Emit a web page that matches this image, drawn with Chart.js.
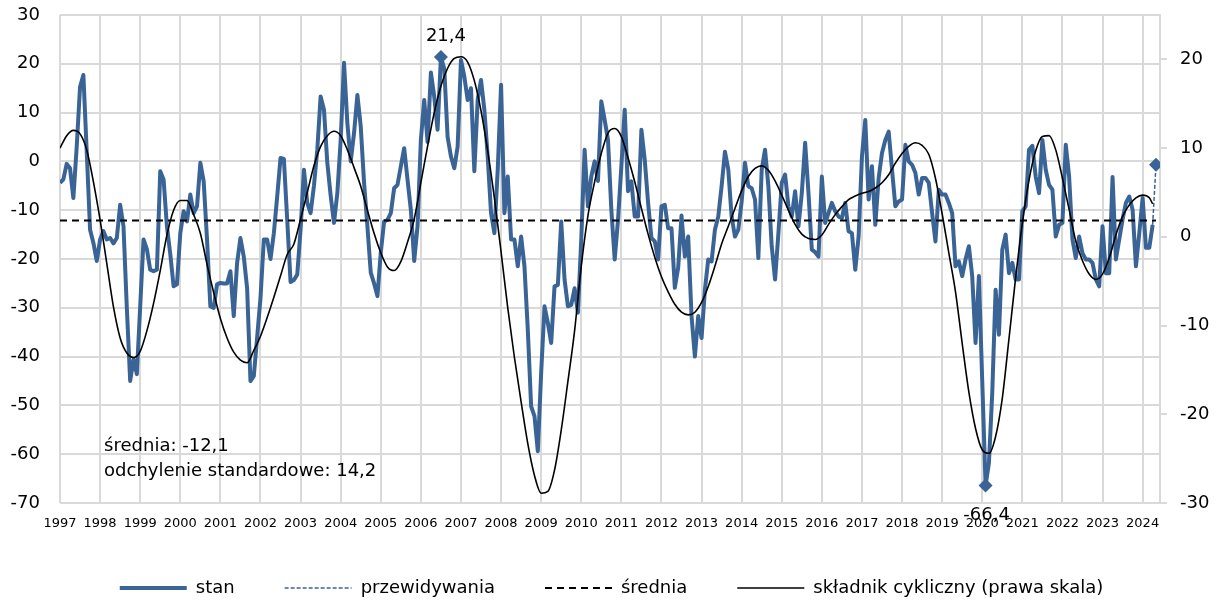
<!DOCTYPE html>
<html>
<head>
<meta charset="utf-8">
<script src="https://cdn.jsdelivr.net/npm/chart.js@4.4.1/dist/chart.umd.min.js"></script>
<style>
  html, body { margin: 0; padding: 0; background: #fff; }
  #wrap { width: 1223px; height: 607px; }
</style>
</head>
<body>
<div id="wrap"><canvas id="chart" width="1223" height="607"></canvas></div>
<script>
(function () {
    "use strict";

    // Year labels (one per January)
    const years = [
        "1997", "1998", "1999", "2000", "2001", "2002", "2003", "2004",
        "2005", "2006", "2007", "2008", "2009", "2010", "2011", "2012",
        "2013", "2014", "2015", "2016", "2017", "2018", "2019", "2020",
        "2021", "2022", "2023", "2024",
    ];

    // Monthly values, Jan 1997 .. Apr 2024 (left axis)
    const stan = [
        -4.4, -3.7, -0.5, -1.4, -7.5, 3, 15.3, 17.7, 2, -14, -16.7, -20.4,
        -16, -14.3, -16, -15.7, -16.8, -15.7, -8.9, -13.3, -30, -45, -40.6, -43.6,
        -29.7, -16, -18, -22.2, -22.5, -22.2, -2, -3.7, -13.3, -19, -25.6, -25.2,
        -14.7, -10.2, -12.3, -6.8, -10.6, -9.2, -0.3, -4.1, -16, -29.7, -30, -25.2,
        -24.9, -25, -25, -22.5, -31.7, -20.8, -15.7, -19.5, -26, -45, -44, -36,
        -28, -16, -16, -20, -14.7, -7.2, 0.7, 0.5, -12, -24.7, -24.3, -23.2,
        -14, -1.7, -8.5, -10.6, -5, 2.4, 13.3, 10.6, -0.3, -7, -12.6, -6.5,
        4.4, 20.2, 7.8, 0, 5.8, 13.6, 7.2, -4.4, -13.3, -22.8, -25, -27.6,
        -18.7, -12.3, -12, -10.6, -5.5, -4.8, -1, 2.7, -3.7, -9.9, -20.4, -13.3,
        4.4, 12.6, 4, 18.2, 13.3, 6.5, 21.4, 19, 5, 1, -1.4, 3,
        20.8, 17.4, 12.6, 15, -2, 12.6, 16.7, 10.6, 1, -10.6, -14.7, -1.7,
        15.7, -10.6, -3.1, -16, -16, -21.5, -15.4, -21.5, -34.5, -50.2, -52.2, -59.4,
        -43.3, -29.7, -33.1, -37.2, -25.6, -25.3, -12.3, -24.2, -29.7, -29.4, -26, -31,
        -16, 2.4, -9.2, -3.1, 0, -4, 12.3, 8.5, 4.4, -9.9, -20.1, -12,
        -1, 10.6, -6.1, -4.1, -11.3, -11.3, 6.5, 0.3, -8.5, -15.7, -16.4, -20.1,
        -9.2, -8.9, -13.7, -13.7, -25.9, -21.8, -11.1, -19.5, -15.4, -31.7, -40, -31.7,
        -36.2, -26.3, -20.1, -20.5, -14, -11.3, -5.1, 2, -1.7, -11.3, -15.4, -14,
        -8.2, -0.3, -5.1, -5.5, -7.8, -19.8, -1.7, 2.4, -5.1, -17.4, -24.2, -14.7,
        -4.4, -2.7, -9.2, -11.3, -6.1, -13.3, -6.5, 3.8, -6.5, -18.1, -18.6, -19.5,
        -3.1, -12.6, -10.6, -8.5, -10.2, -11.3, -11.6, -8.5, -14.3, -14.7, -22.2, -15.4,
        1, 8.5, -7.8, -1, -13, -3.4, 1.7, 4.4, 6.1, -1.7, -9.2, -8.2,
        -7.8, 3.4, 0, -0.7, -2.4, -6.8, -3.4, -3.4, -4.4, -10.6, -16.4, -5.8,
        -6.8, -6.8, -8.5, -10.6, -21.5, -20.5, -23.5, -20.1, -17.4, -23.5, -37.2, -23.5,
        -45, -66.4, -61.8, -47.4, -26.3, -35.5, -18.1, -15, -22.9, -20.8, -24.2, -24.2,
        -10.2, -9.2, 2.4, 3.2, -3.1, -6.5, 4.4, -1.7, -4.8, -5.8, -15.4, -13,
        -12.6, 3.4, -3.1, -16, -19.8, -15.4, -18.8, -20.1, -20.1, -20.8, -24.2, -25.6,
        -13.3, -22.9, -22.9, -3.2, -20.1, -16, -11.9, -8.5, -7.2, -9.9, -21.5, -14.7,
        -7.5, -17.7, -17.7, -13,
    ];

    const forecast = -0.7;   // next month
    const mean = -12.1;
    const stdDev = 14.2;

    // Cyclical component (right axis), read every ~2 months
    const cycMonths = [
        0, 2, 4, 6, 8, 10, 12, 14, 16, 18, 20, 22, 24, 26, 28, 30, 32, 34, 36, 38,
        40, 42, 44, 46, 48, 50, 52, 54, 56, 58, 60, 62, 64, 66, 68, 70, 72, 74, 76, 78,
        80, 82, 84, 86, 88, 90, 92, 94, 96, 98, 100, 102, 104, 106, 108, 110, 112, 114, 116, 118,
        120, 122, 124, 126, 128, 130, 132, 134, 136, 138, 140, 142, 144, 146, 148, 150, 152, 154, 156, 158,
        160, 162, 164, 166, 168, 170, 172, 174, 176, 178, 180, 182, 184, 186, 188, 190, 192, 194, 196, 198,
        200, 202, 204, 206, 208, 210, 212, 214, 216, 218, 220, 222, 224, 226, 228, 230, 232, 234, 236, 238,
        240, 242, 244, 246, 248, 250, 252, 254, 256, 258, 260, 262, 264, 266, 268, 270, 272, 274, 276, 278,
        280, 282, 284, 286, 288, 290, 292, 294, 296, 298, 300, 302, 304, 306, 308, 310, 312, 314, 316, 318,
        320, 322, 324, 326, 327,
    ];
    const cycValues = [
        10.0, 11.4, 12.0, 11.6, 9.8, 6.2, 1.9, -3.0, -7.9, -11.4, -13.1, -13.6, -12.9, -10.6, -7.5, -3.8, 0.2, 3.0, 4.1, 4.1,
        2.5, 0.4, -3.1, -6.3, -9.2, -11.4, -13.0, -13.9, -14.2, -12.8, -11.2, -9.1, -6.8, -4.4, -2.0, -0.8, 2.0, 5.0, 8.0, 10.2,
        11.4, 11.9, 11.4, 9.8, 7.8, 5.7, 3.0, 0.4, -1.8, -3.4, -3.8, -2.8, -0.6, 2.0, 6.1, 10.2, 14.0, 17.0, 19.0, 20.1,
        20.3, 19.7, 17.6, 14.2, 9.7, 4.4, -1.7, -8.0, -13.6, -18.6, -23.3, -26.9, -28.9, -28.7, -26.3, -21.8, -16.3, -10.6, -3.3, 2.4,
        6.2, 9.4, 11.7, 12.2, 11.3, 8.9, 6.2, 3.2, 0.3, -2.3, -4.5, -6.2, -7.6, -8.5, -8.8, -8.5, -7.4, -5.6, -3.3, -0.8,
        1.2, 3.2, 5.2, 6.8, 7.7, 8.0, 7.5, 6.3, 4.7, 3.0, 1.4, 0.3, -0.2, -0.3, 0.2, 1.4, 2.5, 3.4, 4.2, 4.6,
        4.9, 5.1, 5.5, 6.1, 7.0, 8.3, 9.4, 10.2, 10.6, 10.3, 9.3, 6.6, 2.6, -1.8, -6.2, -12.0, -17.5, -21.6, -24.0, -24.4,
        -22.5, -18.2, -11.5, -4.6, 1.5, 6.4, 9.7, 11.3, 11.4, 9.8, 6.6, 3.1, -0.5, -2.7, -4.2, -4.8, -4.2, -2.4, 0.2, 2.3,
        3.6, 4.4, 4.7, 4.4, 3.7,
    ];

    const BLUE = "#3A6496";
    const GRID = "#d9d9d9";
    const FONT = "'DejaVu Sans', Verdana, sans-serif";
    const X_MAX = 329.2;

    const fmt = (v) => v.toFixed(1).replace(".", ",");
    const last = stan.length - 1;
    const maxVal = Math.max(...stan);
    const minVal = Math.min(...stan);
    const iMax = stan.indexOf(maxVal);
    const iMin = stan.indexOf(minVal);

    // Stats text and labels of the extremes
    const notes = {
        id: "notes",
        afterDatasetsDraw(chart) {
            const { ctx } = chart;
            const x = chart.scales.x;
            const y = chart.scales.y;
            ctx.save();
            ctx.fillStyle = "#000";
            ctx.font = "18px " + FONT;
            ctx.textBaseline = "middle";
            ctx.textAlign = "left";
            ctx.fillText("średnia: " + fmt(mean), x.getPixelForValue(13.2), y.getPixelForValue(-58.3));
            ctx.fillText("odchylenie standardowe: " + fmt(stdDev), x.getPixelForValue(13.2), y.getPixelForValue(-63.6));
            ctx.textAlign = "center";
            ctx.fillText(fmt(maxVal), x.getPixelForValue(iMax) + 5, y.getPixelForValue(maxVal) - 21);
            ctx.fillText(fmt(minVal), x.getPixelForValue(iMin) + 1, y.getPixelForValue(minVal) + 30);
            ctx.restore();
        },
    };

    const topPad = (scale) => {
        scale.paddingTop = 15;
    };

    const ctx = document.getElementById("chart").getContext("2d");
    new Chart(ctx, {
        type: "line",
        data: {
            datasets: [
                {
                    label: "stan",
                    data: stan.map((v, i) => ({ x: i, y: v })),
                    borderColor: BLUE,
                    backgroundColor: BLUE,
                    borderWidth: 4,
                    borderJoinStyle: "round",
                    pointRadius: 0,
                    yAxisID: "y",
                    order: 5,
                },
                {
                    label: "przewidywania",
                    data: [
                        { x: last, y: stan[last] },
                        { x: last + 1, y: forecast },
                    ],
                    borderColor: BLUE,
                    backgroundColor: BLUE,
                    borderWidth: 1.5,
                    borderDash: [4, 2],
                    pointStyle: "rectRot",
                    pointRadius: [0, 7],
                    pointBorderWidth: 0,
                    yAxisID: "y",
                    order: 4,
                },
                {
                    label: "średnia",
                    data: [
                        { x: 0, y: mean },
                        { x: last + 1, y: mean },
                    ],
                    borderColor: "#000",
                    backgroundColor: "#000",
                    borderWidth: 2,
                    borderDash: [7, 5],
                    pointRadius: 0,
                    yAxisID: "y",
                    order: 2,
                },
                {
                    label: "składnik cykliczny (prawa skala)",
                    data: cycMonths.map((m, i) => ({ x: m, y: cycValues[i] })),
                    borderColor: "#000",
                    backgroundColor: "#000",
                    borderWidth: 1.6,
                    cubicInterpolationMode: "monotone",
                    pointRadius: 0,
                    yAxisID: "y2",
                    order: 1,
                },
                {
                    label: "ekstrema",
                    data: [
                        { x: iMax, y: maxVal },
                        { x: iMin, y: minVal },
                    ],
                    showLine: false,
                    pointStyle: "rectRot",
                    pointRadius: 7,
                    pointBorderWidth: 0,
                    backgroundColor: BLUE,
                    borderColor: BLUE,
                    yAxisID: "y",
                    order: 0,
                },
            ],
        },
        options: {
            responsive: false,
            animation: false,
            devicePixelRatio: 1,
            layout: { padding: 0 },
            plugins: {
                tooltip: { enabled: false },
                legend: {
                    position: "bottom",
                    labels: {
                        color: "#000",
                        font: { family: FONT, size: 18 },
                        usePointStyle: true,
                        pointStyle: "line",
                        pointStyleWidth: 67,
                        padding: 50,
                        // line samples taken from the datasets themselves
                        generateLabels: (chart) =>
                            chart.data.datasets.slice(0, 4).map((ds, i) => ({
                                text: ds.label,
                                datasetIndex: i,
                                strokeStyle: ds.borderColor,
                                fillStyle: "transparent",
                                fontColor: "#000",
                                lineWidth: ds.borderWidth,
                                lineDash: ds.borderDash || [],
                                lineCap: "butt",
                                pointStyle: "line",
                                hidden: false,
                            })),
                    },
                },
            },
            scales: {
                x: {
                    type: "linear",
                    min: 0,
                    max: X_MAX,
                    afterBuildTicks: (scale) => {
                        scale.ticks = years
                            .map((_, i) => ({ value: i * 12 }))
                            .concat([{ value: X_MAX }]);
                    },
                    afterFit: (scale) => {
                        scale.height = 26;
                    },
                    ticks: {
                        autoSkip: false,
                        maxRotation: 0,
                        padding: 13,
                        color: "#000",
                        font: { family: FONT, size: 13 },
                        callback: (v) => (v % 12 === 0 ? years[v / 12] : ""),
                    },
                    grid: { color: GRID, lineWidth: 2, drawTicks: false },
                    border: { display: false },
                },
                y: {
                    position: "left",
                    min: -70,
                    max: 30,
                    afterFit: (scale) => {
                        scale.width = 60;
                        topPad(scale);
                    },
                    ticks: {
                        stepSize: 10,
                        padding: 20,
                        color: "#000",
                        font: { family: FONT, size: 18 },
                    },
                    grid: { color: GRID, lineWidth: 2, drawTicks: false },
                    border: { display: false },
                },
                y2: {
                    position: "right",
                    min: -30,
                    max: 25,
                    afterBuildTicks: (scale) => {
                        scale.ticks = scale.ticks.filter((t) => Math.abs(t.value % 10) < 1e-9);
                    },
                    afterFit: (scale) => {
                        scale.width = 63;
                        topPad(scale);
                    },
                    ticks: {
                        stepSize: 10,
                        padding: 13,
                        color: "#000",
                        font: { family: FONT, size: 18 },
                    },
                    grid: {
                        drawOnChartArea: false,
                        drawTicks: true,
                        tickLength: 7,
                        color: GRID,
                        lineWidth: 2,
                    },
                    border: { display: true, color: GRID, width: 2 },
                },
            },
        },
        plugins: [notes],
    });
})();
</script>
</body>
</html>
